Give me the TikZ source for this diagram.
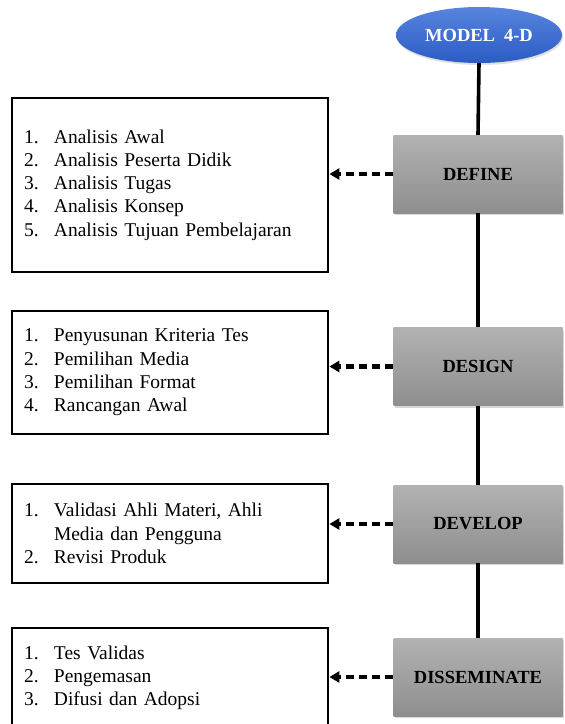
\documentclass[tikz,border=0pt]{standalone}
\usepackage{fontspec}
\setmainfont{Liberation Serif}
\usetikzlibrary{shapes.geometric,arrows.meta,shadows}
\definecolor{boxtop}{RGB}{178,178,178}
\definecolor{boxbot}{RGB}{142,142,142}
\definecolor{elltop}{RGB}{88,132,222}
\definecolor{ellbot}{RGB}{42,92,196}
\newcommand\numline[2]{\makebox[30pt][l]{#1}#2}
\begin{document}
\begin{tikzpicture}[x=1pt,y=-1pt,
  listbox/.style={draw=black, line width=2.7pt, fill=white, text width=292pt, inner xsep=12pt, inner ysep=0pt, align=left, font=\fontsize{19.5}{23.3}\selectfont},
  stagebox/.style={minimum width=169pt, minimum height=78pt, inner sep=0pt, top color=boxtop, bottom color=boxbot, drop shadow={opacity=0.3, shadow xshift=1.5pt, shadow yshift=-2pt}, font=\fontsize{18.5}{22}\selectfont\bfseries},
  headell/.style={ellipse, minimum width=166pt, minimum height=56pt, inner sep=0pt, top color=elltop, bottom color=ellbot, text=white, drop shadow={opacity=0.25, shadow xshift=1pt, shadow yshift=-2pt}, font=\fontsize{18.5}{22}\selectfont\bfseries},
  link/.style={line width=3.6pt},
  feed/.style={line width=4.2pt, dash pattern=on 8pt off 5pt, -{Triangle[length=10pt,width=11pt]}},
]
\useasboundingbox (0,0) rectangle (565,724);
\clip (0,0) rectangle (565,724);
\fill[white] (0,0) rectangle (565,724);

\node[headell] (m) at (479,35) {MODEL\hspace{9pt}4-D};
\node[stagebox] (s1) at (478,174) {DEFINE};
\node[stagebox] (s2) at (478,366.5) {DESIGN};
\node[stagebox] (s3) at (478,524) {DEVELOP};
\node[stagebox] (s4) at (478,677) {DISSEMINATE};

\node[listbox, minimum height=174pt] (l1) at (170,185) {%
\numline{1.}{Analisis Awal}\\
\numline{2.}{Analisis Peserta Didik}\\
\numline{3.}{Analisis Tugas}\\
\numline{4.}{Analisis Konsep}\\
\numline{5.}{Analisis Tujuan Pembelajaran}};

\node[listbox, minimum height=123pt] (l2) at (170,372.5) {%
\numline{1.}{Penyusunan Kriteria Tes}\\
\numline{2.}{Pemilihan Media}\\
\numline{3.}{Pemilihan Format}\\
\numline{4.}{Rancangan Awal}};

\node[listbox, minimum height=99pt] (l3) at (170,533.5) {%
\numline{1.}{Validasi Ahli Materi, Ahli}\\
\numline{}{Media dan Pengguna}\\
\numline{2.}{Revisi Produk}};

\node[listbox, minimum height=100pt] (l4) at (170,678) {%
\numline{1.}{Tes Validas}\\
\numline{2.}{Pengemasan}\\
\numline{3.}{Difusi dan Adopsi}};

\draw[link] (m.south) -- (s1.north);
\draw[link] (s1.south) -- (s2.north);
\draw[link] (s2.south) -- (s3.north);
\draw[link] (s3.south) -- (s4.north);

\draw[feed] (s1.west) -- (s1.west -| l1.east);
\draw[feed] (s2.west) -- (s2.west -| l2.east);
\draw[feed] (s3.west) -- (s3.west -| l3.east);
\draw[feed] (s4.west) -- (s4.west -| l4.east);
\end{tikzpicture}
\end{document}
